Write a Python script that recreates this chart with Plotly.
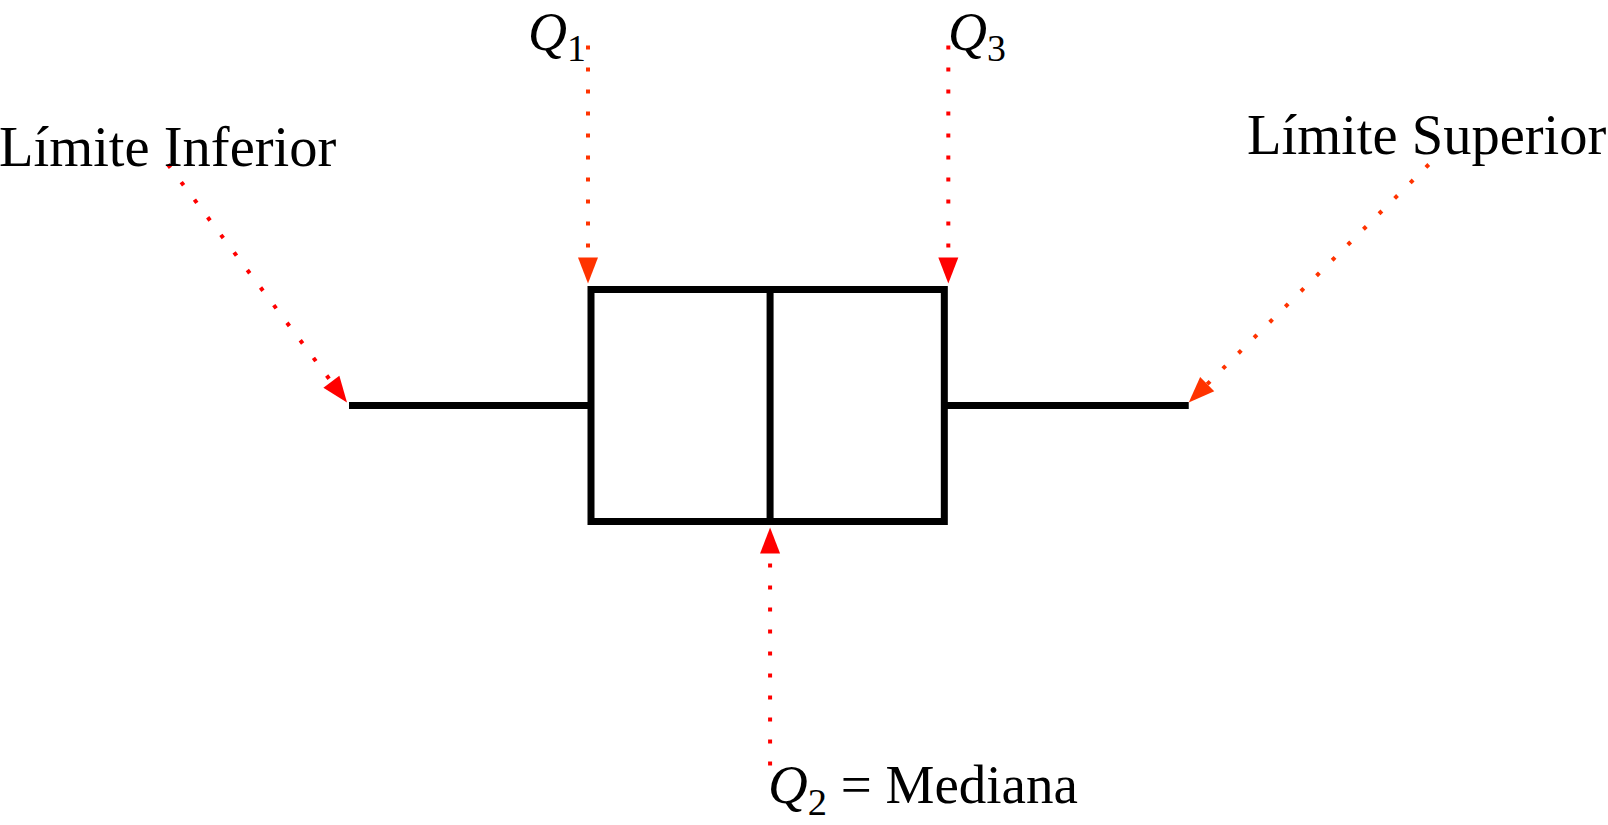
import math
import plotly.graph_objects as go

# ---------------- data: five-number summary (arbitrary units) ----------------
lower_fence = [1.0]
q1_vals = [2.0]
median_vals = [2.74]
q3_vals = [3.46]
upper_fence = [4.47]
box_pos = [0.0]

label_lower = "Límite Inferior"
label_upper = "Límite Superior"
label_q1 = "<i>Q</i><sub>1</sub>"
label_q3 = "<i>Q</i><sub>3</sub>"
label_q2 = "<i>Q</i><sub>2</sub> = Mediana"

# ---------------- layout constants ----------------
W, H = 1608, 825
PX_X = 242.0                 # pixels per x unit
LOWER_PX = 349.0             # figure x of the lower fence
PX_Y = 232.0                 # pixels per y unit
CENTER_PY = 405.5            # figure y of the box centre
BOX_W = 1.0                  # box thickness in y units

xmin = lower_fence[0] - LOWER_PX / PX_X
xmax = xmin + W / PX_X
ymax = CENTER_PY / PX_Y
ymin = ymax - H / PX_Y

RED = "#ff0000"
ORANGE = "#ff3300"
FONT = "Liberation Serif"

fig = go.Figure()
fig.add_trace(go.Box(
    orientation="h",
    y=box_pos,
    q1=q1_vals, median=median_vals, q3=q3_vals,
    lowerfence=lower_fence, upperfence=upper_fence,
    width=BOX_W, whiskerwidth=0,
    line=dict(color="black", width=7),
    fillcolor="rgba(255,255,255,0)",
    boxpoints=False, hoverinfo="skip", showlegend=False,
))

top = box_pos[0] + BOX_W / 2
bot = box_pos[0] - BOX_W / 2

# arrows: anchor (data), tip offset, tail offset (screen px, y down), colour
arrows = [
    (lower_fence[0], box_pos[0], (-2, -3), (-181, -241), RED),
    (q1_vals[0], top, (-3, -6), (-3, -244), ORANGE),
    (q3_vals[0], top, (4, -6), (4, -244), RED),
    (upper_fence[0], box_pos[0], (0, -3), (240, -241), ORANGE),
    (median_vals[0], bot, (0, 6), (0, 244), RED),
]

HEAD_L, HEAD_W = 26.0, 20.0
shapes = []
for ax_, ay_, tip, tail, col in arrows:
    tx, ty = tip[0], -tip[1]
    sx, sy = tail[0], -tail[1]
    dx, dy = tx - sx, ty - sy
    L = math.hypot(dx, dy)
    ux, uy = dx / L, dy / L
    bx, by = tx - HEAD_L * ux, ty - HEAD_L * uy
    nx, ny = -uy, ux
    c1 = (bx + HEAD_W / 2 * nx, by + HEAD_W / 2 * ny)
    c2 = (bx - HEAD_W / 2 * nx, by - HEAD_W / 2 * ny)
    common = dict(xref="x", yref="y", xsizemode="pixel", ysizemode="pixel",
                  xanchor=ax_, yanchor=ay_)
    shapes.append(dict(type="line", x0=sx, y0=sy, x1=bx, y1=by,
                       line=dict(color=col, width=4, dash="4px,18px"), **common))
    shapes.append(dict(type="path",
                       path=f"M{tx:.2f},{ty:.2f} L{c1[0]:.2f},{c1[1]:.2f} L{c2[0]:.2f},{c2[1]:.2f} Z",
                       fillcolor=col, line=dict(width=0), **common))

def ann(text, px, py, xanchor, size, yanchor="middle"):
    return dict(text=text, xref="paper", yref="paper",
                x=px / W, y=1 - py / H,
                xanchor=xanchor, yanchor=yanchor, showarrow=False,
                font=dict(family=FONT, size=size, color="black"))

annotations = [
    ann(label_lower, -3, 147, "left", 56.5),
    ann(label_upper, 1609, 135, "right", 56.5),
    ann(label_q1, 526, 0, "left", 54, yanchor="top"),
    ann(label_q3, 946, 0, "left", 54, yanchor="top"),
    ann(label_q2, 766, 825, "left", 55, yanchor="bottom"),
]

fig.update_layout(
    width=W, height=H, autosize=False,
    margin=dict(l=0, r=0, t=0, b=0),
    paper_bgcolor="white", plot_bgcolor="white",
    xaxis=dict(range=[xmin, xmax], visible=False, fixedrange=True),
    yaxis=dict(range=[ymin, ymax], visible=False, fixedrange=True),
    shapes=shapes, annotations=annotations, showlegend=False,
)

fig.write_html("out.html", config={"displayModeBar": False},
               post_script="document.body.style.margin='0';document.body.style.overflow='hidden';")
